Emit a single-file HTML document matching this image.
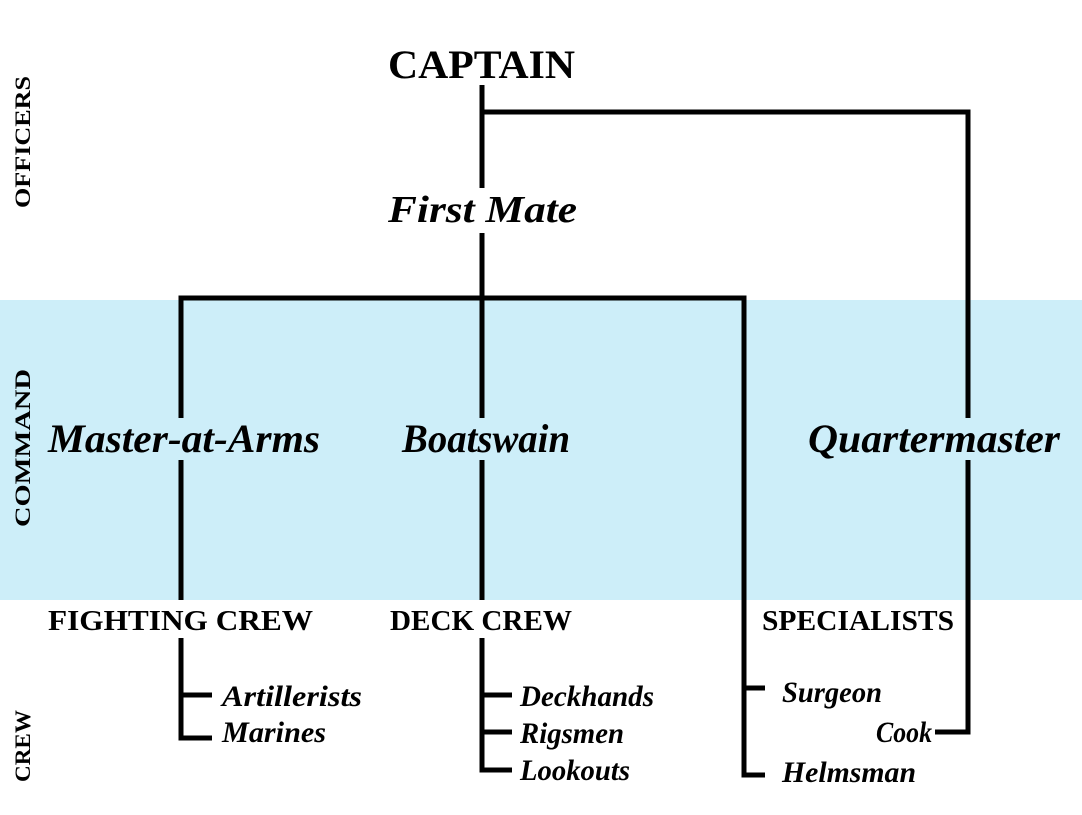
<!DOCTYPE html>
<html><head><style>body{margin:0;background:#fff}svg{display:block}</style></head><body>
<svg width="1082" height="815" viewBox="0 0 1082 815" xmlns="http://www.w3.org/2000/svg">
<rect x="0" y="300" width="1082" height="300" fill="#cdeef9"/>
<g stroke="#000" stroke-width="5" fill="none">
<path d="M482 85V600M482 112H968V732H935"/>
<path d="M181 300V298H744V775H765M744 688H765"/>
<path d="M181 298V738H212M181 695H212"/>
<path d="M482 600V770H512M482 695H512M482 732H512"/>
</g>
<g fill="#fff">
<rect x="385" y="188" width="195" height="45"/>
<rect x="45" y="600" width="275" height="38"/>
<rect x="385" y="600" width="195" height="38"/>
<rect x="755" y="600" width="205" height="38"/>
</g>
<g fill="#cdeef9">
<rect x="160" y="418" width="45" height="42"/>
<rect x="460" y="418" width="45" height="42"/>
<rect x="950" y="418" width="40" height="42"/>
</g>
<g font-family="Liberation Serif, serif" font-weight="bold" fill="#000">
<text x="388" y="78" font-size="40" textLength="187" lengthAdjust="spacingAndGlyphs">CAPTAIN</text>
<text x="388" y="222" font-size="38" font-style="italic" textLength="189" lengthAdjust="spacingAndGlyphs">First Mate</text>
<text x="48" y="452" font-size="40" font-style="italic" textLength="272" lengthAdjust="spacingAndGlyphs">Master-at-Arms</text>
<text x="402" y="452" font-size="40" font-style="italic" textLength="168" lengthAdjust="spacingAndGlyphs">Boatswain</text>
<text x="808" y="452" font-size="40" font-style="italic" textLength="252" lengthAdjust="spacingAndGlyphs">Quartermaster</text>
<text x="48" y="630" font-size="28" textLength="265" lengthAdjust="spacingAndGlyphs">FIGHTING CREW</text>
<text x="390" y="630" font-size="28" textLength="182" lengthAdjust="spacingAndGlyphs">DECK CREW</text>
<text x="762" y="630" font-size="28" textLength="192" lengthAdjust="spacingAndGlyphs">SPECIALISTS</text>
<g font-style="italic" font-size="30">
<text x="222" y="706" textLength="140" lengthAdjust="spacingAndGlyphs">Artillerists</text>
<text x="222" y="742" textLength="104" lengthAdjust="spacingAndGlyphs">Marines</text>
<text x="520" y="706" textLength="134" lengthAdjust="spacingAndGlyphs">Deckhands</text>
<text x="520" y="743" textLength="104" lengthAdjust="spacingAndGlyphs">Rigsmen</text>
<text x="520" y="780" textLength="110" lengthAdjust="spacingAndGlyphs">Lookouts</text>
<text x="782" y="702" textLength="100" lengthAdjust="spacingAndGlyphs">Surgeon</text>
<text x="876" y="742" textLength="56" lengthAdjust="spacingAndGlyphs">Cook</text>
<text x="782" y="782" textLength="134" lengthAdjust="spacingAndGlyphs">Helmsman</text>
</g>
<g font-size="22">
<text transform="translate(30,208) rotate(-90)" textLength="132" lengthAdjust="spacingAndGlyphs">OFFICERS</text>
<text transform="translate(30,527) rotate(-90)" textLength="158" lengthAdjust="spacingAndGlyphs">COMMAND</text>
<text transform="translate(30,782) rotate(-90)" textLength="72" lengthAdjust="spacingAndGlyphs">CREW</text>
</g>
</g>
</svg>
</body></html>
